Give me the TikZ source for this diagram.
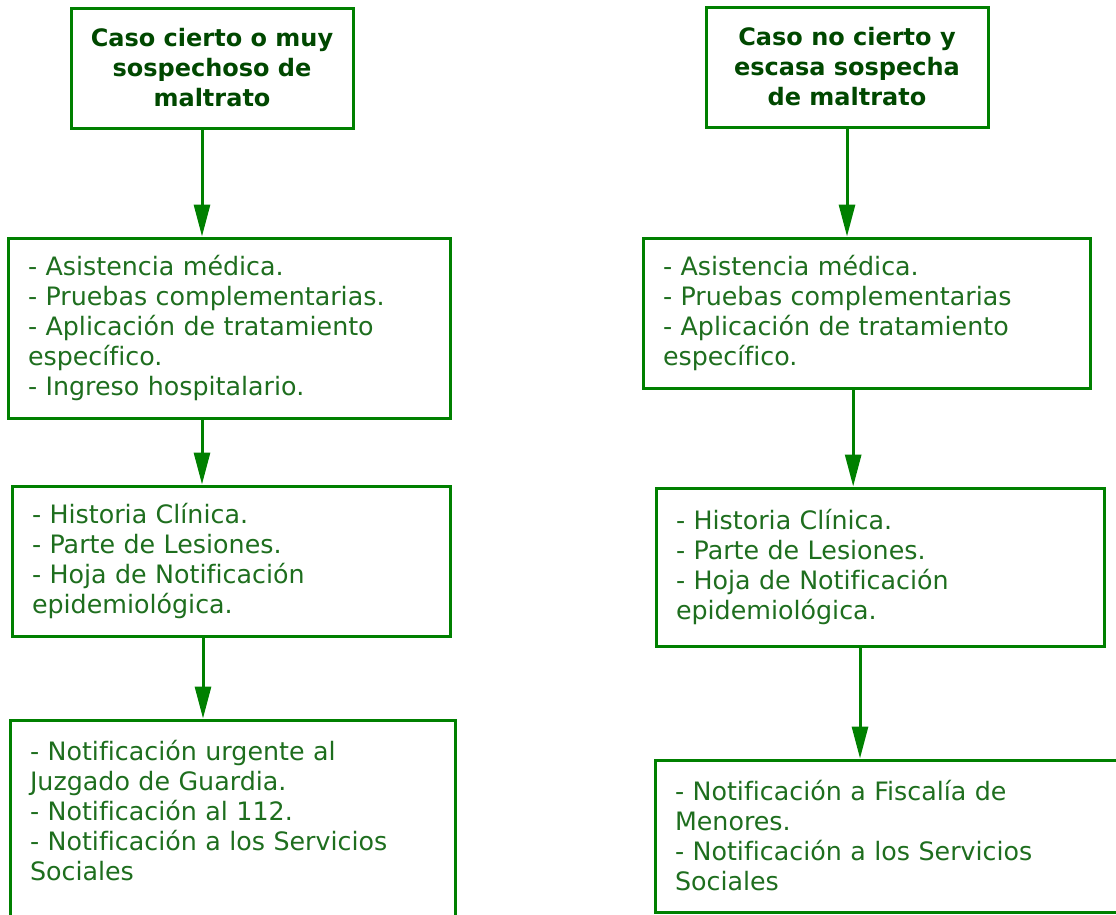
\documentclass[tikz,border=0pt]{standalone}
\usepackage{fontspec}
\setmainfont{DejaVu Sans}[Ligatures={NoCommon}]
\usepackage{xcolor}
\usepackage{tikz}
\usetikzlibrary{arrows.meta}
\definecolor{verde}{RGB}{0,128,0}
\definecolor{verdetexto}{RGB}{30,110,30}
\definecolor{verdeosc}{RGB}{0,72,0}
\tikzstyle{titulo} = [rectangle,
draw=verde,
line width=2.25pt,
minimum width=211.5pt,
minimum height=90pt,
align=center,
text=verdeosc,
font=\fontsize{18}{22.5}\selectfont\bfseries]
\tikzstyle{caja} = [rectangle,
draw=verde,
line width=2.25pt,
inner xsep=15pt,
align=left,
text=verdetexto,
font=\fontsize{19}{22.5}\selectfont]
\tikzstyle{flecha} = [draw=verde,line width=2.25pt,-{Triangle[length=24pt,width=12pt]}]

\begin{document}
\begin{tikzpicture}[x=0.75pt,y=-0.75pt]
\useasboundingbox (0,0) rectangle (1116,914);

% Columna izquierda
\node[titulo] (tizq) at (212,68) {Caso cierto o muy\\sospechoso de\\maltrato};
\node[caja, text width=301.5pt, minimum height=135pt] (izq1) at (229,328)
{- Asistencia médica.\\- Pruebas complementarias.\\- Aplicación de tratamiento\\específico.\\- Ingreso hospitalario.};
\node[caja, text width=298.5pt, minimum height=112.5pt] (izq2) at (231,561)
{- Historia Clínica.\\- Parte de Lesiones.\\- Hoja de Notificación\\epidemiológica.};
\node[caja, text width=303.75pt, minimum height=157.5pt] (izq3) at (232.5,825)
{- Notificación urgente al\\Juzgado de Guardia.\\- Notificación al 112.\\- Notificación a los Servicios\\Sociales\\\mbox{}};

% Columna derecha
\node[titulo] (tder) at (847,67) {Caso no cierto y\\escasa sospecha\\de maltrato};
\node[caja, text width=305.25pt, minimum height=112.5pt] (der1) at (866.5,313)
{- Asistencia médica.\\- Pruebas complementarias\\- Aplicación de tratamiento\\específico.};
\node[caja, text width=306pt, minimum height=118.5pt] (der2) at (880,567)
{- Historia Clínica.\\- Parte de Lesiones.\\- Hoja de Notificación\\epidemiológica.};
\node[caja, text width=322.5pt, minimum height=114pt] (der3) at (890,836)
{- Notificación a Fiscalía de\\Menores.\\- Notificación a los Servicios\\Sociales};

% Flechas
\draw[flecha] ([xshift=-7.5pt]tizq.south) -- ([xshift=-7.5pt]tizq.south |- izq1.north);
\draw[flecha] ([xshift=-20.25pt]izq1.south) -- ([xshift=-20.25pt]izq1.south |- izq2.north);
\draw[flecha] ([xshift=-21pt]izq2.south) -- ([xshift=-21pt]izq2.south |- izq3.north);
\draw[flecha] (tder.south) -- (tder.south |- der1.north);
\draw[flecha] ([xshift=-10pt]der1.south) -- ([xshift=-10pt]der1.south |- der2.north);
\draw[flecha] ([xshift=-15pt]der2.south) -- ([xshift=-15pt]der2.south |- der3.north);

\end{tikzpicture}
\end{document}
